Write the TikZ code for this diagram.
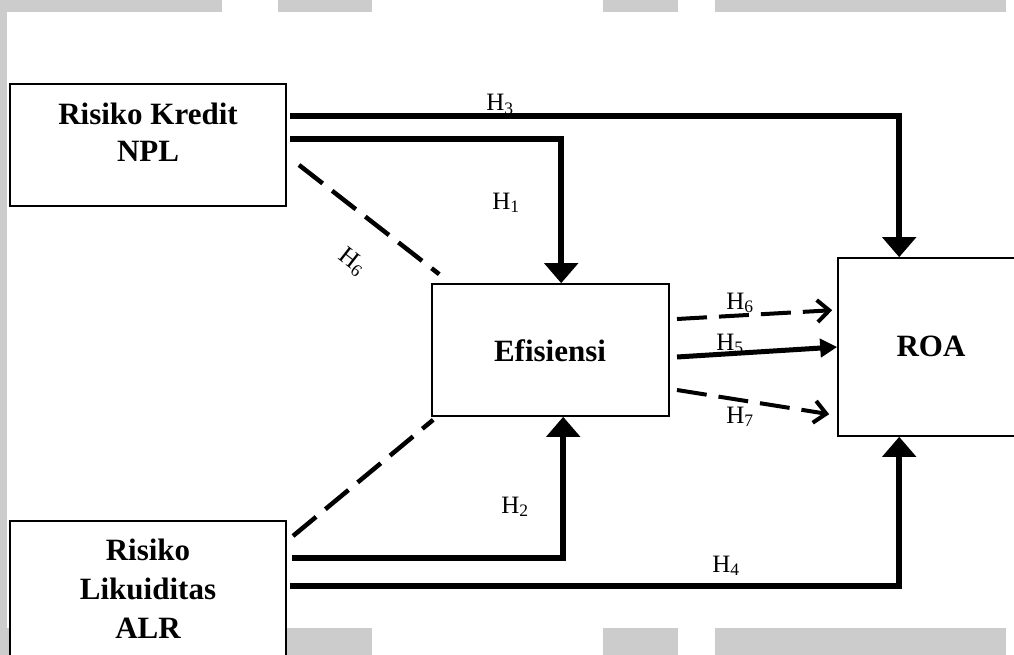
\documentclass[tikz,border=0pt]{standalone}
\usepackage{fontspec}
\setmainfont{Liberation Serif}
\usetikzlibrary{arrows.meta}
\begin{document}
\begin{tikzpicture}[x=1pt,y=-1pt,
  pagebar/.style={fill=black!20, draw=none},
  box/.style={draw=black, line width=1.6pt, fill=white, inner sep=0pt},
  boxtext/.style={font=\fontsize{31}{37}\selectfont\bfseries, align=center, inner sep=0pt, anchor=base},
  hlab/.style={font=\fontsize{25}{30}\selectfont, inner sep=0pt, anchor=base},
  conn/.style={line width=5.5pt, line join=miter, -{Triangle[length=20pt,width=33pt]}},
  sconn/.style={line width=5pt, -{Triangle[length=17pt,width=18pt]}},
  dline/.style={line width=4.5pt, dash pattern=on 30pt off 12pt},
  dconn/.style={line width=4pt, dash pattern=on 30pt off 12pt, -{Straight Barb[length=12pt,width=22pt,line width=4pt]}}
]
\useasboundingbox (0,0) rectangle (1014,655);
\clip (0,0) rectangle (1014,655);
% page background strips
\fill[pagebar] (0,0) rectangle (222,12);
\fill[pagebar] (278,0) rectangle (372,12);
\fill[pagebar] (603,0) rectangle (678,12);
\fill[pagebar] (715,0) rectangle (1006,12);
\fill[pagebar] (0,0) rectangle (7,655);
\fill[pagebar] (0,628) rectangle (372,655);
\fill[pagebar] (603,628) rectangle (678,655);
\fill[pagebar] (715,628) rectangle (1006,655);
% boxes
\node[box, minimum width=276pt, minimum height=122pt] (kredit) at (148,145) {};
\node[box, minimum width=237pt, minimum height=132pt] (eff) at (550.5,350) {};
\node[box, minimum width=186pt, minimum height=178pt] (roa) at (931,347) {};
\node[box, minimum width=276pt, minimum height=179pt] (likuid) at (148,610.5) {};
% box texts (base anchor = last line's baseline)
\node[boxtext] (tkredit) at (148,162) {Risiko Kredit\\NPL};
\node[boxtext] (teff) at (550,361) {Efisiensi};
\node[boxtext] (troa) at (931,356) {ROA};
\node[boxtext, font=\fontsize{31}{39}\selectfont\bfseries] (tlikuid) at (148,638) {Risiko\\Likuiditas\\ALR};
% start coordinates
\coordinate (k3) at (290,116);
\coordinate (k1) at (290,139);
\coordinate (k6) at (299,165);
\coordinate (l6) at (293,536);
\coordinate (l2) at (292,558);
\coordinate (l4) at (290,586);
\coordinate (e6) at (677,319);
\coordinate (e5) at (677,357);
\coordinate (e7) at (677,390);
% connectors
\draw[conn] (k3) -| ([xshift=62pt]roa.north west);
\draw[conn] (k1) -| ([xshift=130pt]eff.north west);
\draw[conn] (l2) -| ([xshift=132pt]eff.south west);
\draw[conn] (l4) -| ([xshift=62pt]roa.south west);
\draw[dline] (k6) -- ([xshift=8pt,yshift=9pt]eff.north west);
\draw[dline] (l6) -- ([xshift=2pt,yshift=-3pt]eff.south west);
\draw[dconn] (e6) -- ([xshift=-5pt,yshift=-53pt]roa.north west);
\draw[sconn] (e5) -- (roa.west);
\draw[dconn] (e7) -- ([xshift=-8pt,yshift=-157pt]roa.north west);
% labels
\node[hlab] (h3) at (500,111) {H\textsubscript{3}};
\node[hlab] (h1) at (506,209) {H\textsubscript{1}};
\node[hlab] (h2) at (515,513) {H\textsubscript{2}};
\node[hlab] (h4) at (726,572) {H\textsubscript{4}};
\node[hlab] (h6b) at (740,309) {H\textsubscript{6}};
\node[hlab] (h5) at (730,350) {H\textsubscript{5}};
\node[hlab] (h7) at (740,423) {H\textsubscript{7}};
\node[font=\fontsize{25}{30}\selectfont, inner sep=0pt, rotate=-38] (h6a) at (352,262) {H\textsubscript{6}};
\end{tikzpicture}
\end{document}
